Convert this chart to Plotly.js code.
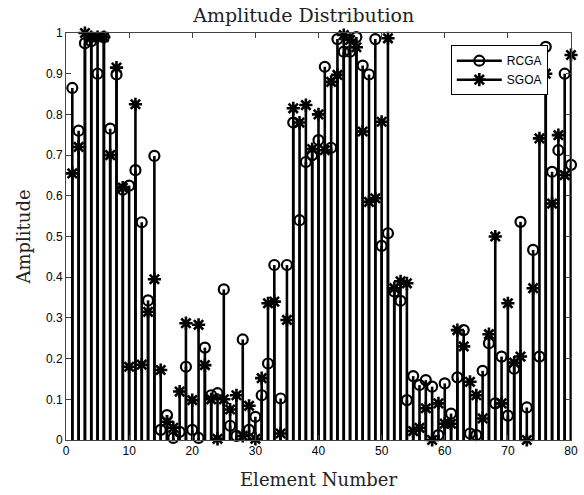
<!DOCTYPE html>
<html>
<head>
<meta charset="utf-8">
<script src="https://cdn.plot.ly/plotly-3.0.1.min.js"></script>
<style>html,body{margin:0;padding:0;background:#fff;}#chart{width:584px;height:495px;}</style>
</head>
<body>
<div id="chart"></div>
<script>
// Element numbers 1..80
var elements = [];
for (var k = 1; k <= 80; k++) elements.push(k);

// RCGA amplitudes (circles)
var rcga = [
  0.865, 0.76, 0.975, 0.98, 0.90, 0.99, 0.765, 0.898, 0.615, 0.625,
  0.663, 0.535, 0.343, 0.698, 0.025, 0.061, 0.005, 0.02, 0.18, 0.025,
  0.005, 0.227, 0.11, 0.115, 0.37, 0.035, 0.01, 0.247, 0.025, 0.057,
  0.11, 0.188, 0.43, 0.102, 0.43, 0.78, 0.54, 0.683, 0.70, 0.737,
  0.917, 0.718, 0.985, 0.954, 0.954, 0.99, 0.92, 0.898, 0.985, 0.477,
  0.508, 0.365, 0.342, 0.098, 0.157, 0.135, 0.147, 0.131, 0.012, 0.139,
  0.065, 0.154, 0.27, 0.016, 0.012, 0.17, 0.238, 0.09, 0.205, 0.06,
  0.175, 0.536, 0.08, 0.467, 0.205, 0.966, 0.659, 0.712, 0.90, 0.676
];

// SGOA amplitudes (asterisks)
var sgoa = [
  0.655, 0.72, 1.0, 0.99, 0.99, 0.99, 0.70, 0.915, 0.62, 0.18,
  0.825, 0.185, 0.315, 0.395, 0.172, 0.045, 0.03, 0.119, 0.287, 0.098,
  0.283, 0.184, 0.10, 0.003, 0.10, 0.075, 0.11, 0.01, 0.084, 0.003,
  0.152, 0.336, 0.34, 0.016, 0.295, 0.815, 0.78, 0.823, 0.715, 0.80,
  0.712, 0.88, 0.897, 0.995, 0.983, 0.965, 0.758, 0.585, 0.594, 0.782,
  0.987, 0.373, 0.39, 0.385, 0.022, 0.03, 0.078, 0.0, 0.09, 0.04,
  0.04, 0.27, 0.23, 0.143, 0.11, 0.053, 0.26, 0.50, 0.09, 0.336,
  0.19, 0.205, 0.0, 0.373, 0.741, 0.90, 0.581, 0.749, 0.651, 0.946
];

var xTicks = [0, 10, 20, 30, 40, 50, 60, 70, 80];
var yTicks = [0, 0.1, 0.2, 0.3, 0.4, 0.5, 0.6, 0.7, 0.8, 0.9, 1];
var seriesNames = ['RCGA', 'SGOA'];

function stemXY(xs, ys) {
  var sx = [], sy = [];
  for (var i = 0; i < xs.length; i++) {
    sx.push(xs[i], xs[i], null);
    sy.push(0, ys[i], null);
  }
  return {x: sx, y: sy};
}

var s1 = stemXY(elements, rcga);
var s2 = stemXY(elements, sgoa);
var stemLine = {color: '#000', width: 2.6};
var circ = {symbol: 'circle-open', size: 10, color: '#000', line: {width: 2.2, color: '#000'}};
var star = {symbol: 'asterisk-open', size: 11, color: '#000', line: {width: 2.6, color: '#000'}};

var traces = [
  {x: s1.x, y: s1.y, mode: 'lines', line: stemLine, showlegend: false, hoverinfo: 'skip', cliponaxis: false},
  {x: s2.x, y: s2.y, mode: 'lines', line: stemLine, showlegend: false, hoverinfo: 'skip', cliponaxis: false},
  {x: elements, y: rcga, mode: 'markers', marker: circ, showlegend: false, cliponaxis: false},
  {x: elements, y: sgoa, mode: 'markers', marker: star, showlegend: false, cliponaxis: false},
  {x: [null], y: [null], mode: 'lines+markers', name: seriesNames[0], line: stemLine, marker: circ},
  {x: [null], y: [null], mode: 'lines+markers', name: seriesNames[1], line: stemLine, marker: star}
];

var tickFont = {family: 'Liberation Sans, Arial, sans-serif', size: 12, color: '#000'};
var titleFont = {family: 'DejaVu Serif, serif', size: 18, color: '#222'};

var layout = {
  width: 584, height: 495,
  margin: {l: 66, r: 13, t: 33, b: 55},
  paper_bgcolor: '#fff', plot_bgcolor: '#fff',
  title: {text: 'Amplitude Distribution', font: {family: 'DejaVu Serif, serif', size: 19, color: '#222'},
          x: 0.52, xanchor: 'center', yref: 'container', y: 0.968, yanchor: 'middle'},
  xaxis: {
    range: [0, 80], tickvals: xTicks, ticktext: xTicks.map(String),
    ticks: 'inside', ticklen: 5, tickcolor: '#444', tickwidth: 1,
    showline: true, linecolor: '#444', linewidth: 1, mirror: 'ticks',
    showgrid: false, zeroline: false, tickfont: tickFont,
    title: {text: 'Element Number', font: titleFont, standoff: 15}
  },
  yaxis: {
    range: [0, 1], tickvals: yTicks, ticktext: yTicks.map(String),
    ticks: 'inside', ticklen: 5, tickcolor: '#444', tickwidth: 1,
    showline: true, linecolor: '#444', linewidth: 1, mirror: 'ticks',
    showgrid: false, zeroline: false, tickfont: tickFont,
    title: {text: 'Amplitude', font: titleFont, standoff: 10}
  },
  legend: {
    x: 0.762, y: 0.97, xanchor: 'left', yanchor: 'top',
    bgcolor: '#fff', bordercolor: '#000', borderwidth: 1,
    font: {family: 'Liberation Sans, Arial, sans-serif', size: 12, color: '#000'},
    tracegroupgap: 0, itemwidth: 45
  },
  showlegend: true
};

Plotly.newPlot('chart', traces, layout, {displayModeBar: false, staticPlot: true});
</script>
</body>
</html>
